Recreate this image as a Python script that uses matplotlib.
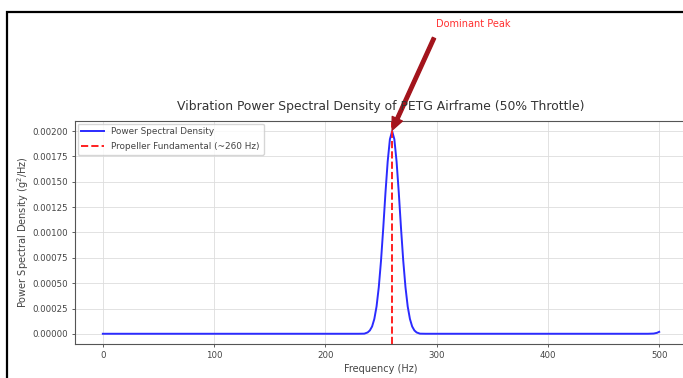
import matplotlib
matplotlib.use("Agg")
import matplotlib.pyplot as plt
from matplotlib.patches import Rectangle

# Data
freq = [0, 100, 200, 225, 230, 235, 238, 240, 242, 244, 246, 248, 250, 252, 254, 256, 258, 260,
        262, 264, 266, 268, 270, 272, 274, 276, 278, 280, 282, 285, 290, 300, 400, 490, 495, 498, 500]
psd = [0.000001, 0.000001, 0.000001, 0.000001, 0.000001, 0.000002, 0.000014, 0.000034, 0.000073,
       0.000147, 0.00027, 0.00046, 0.00072, 0.00104, 0.00139, 0.00170, 0.00192, 0.00200,
       0.00192, 0.00170, 0.00139, 0.00104, 0.00072, 0.00046, 0.00027, 0.000147, 0.000073,
       0.000034, 0.000014, 0.000002, 0.000001, 0.000001, 0.000001, 0.000001, 0.000003, 0.000010, 0.000020]
fundamental = 260
yticks = [0.0, 0.00025, 0.0005, 0.00075, 0.001, 0.00125, 0.0015, 0.00175, 0.002]
xticks = [0, 100, 200, 300, 400, 500]

W, H = 683, 378
fig = plt.figure(figsize=(W / 100, H / 100), dpi=100)
fig.patch.set_facecolor("white")

# screenshot frame
fig.patches.append(Rectangle((7 / W, -0.1), 1.2, (H - 12) / H + 0.1, transform=fig.transFigure,
                             fill=False, edgecolor="black", linewidth=1.6))

left, right, top, bottom = 75, 687, 121, 344
ax = fig.add_axes([left / W, 1 - bottom / H, (right - left) / W, (bottom - top) / H])

ax.plot(freq, psd, color="#2b2bff", linewidth=1.4, label="Power Spectral Density")
ax.axvline(fundamental, color="#ff2020", linestyle="--", linewidth=1.4,
           label="Propeller Fundamental (~260 Hz)")

ax.set_xlim(-25, 525)
ax.set_ylim(-0.0001, 0.0021)
ax.set_xticks(xticks)
ax.set_yticks(yticks)
ax.set_yticklabels([f"{v:.5f}" for v in yticks])
ax.tick_params(labelsize=6.2, colors="#444444", length=2.5, width=0.6, pad=2.5)
ax.grid(True, color="#dddddd", linewidth=0.6, linestyle="-")
for s in ax.spines.values():
    s.set_color("#555555")
    s.set_linewidth(0.8)

ax.set_title("Vibration Power Spectral Density of PETG Airframe (50% Throttle)",
             fontsize=8.9, color="#333333", pad=8)
ax.set_xlabel("Frequency (Hz)", fontsize=7, color="#444444", labelpad=3)
ax.set_ylabel("Power Spectral Density (g$^2$/Hz)", fontsize=7, color="#444444", labelpad=1)

leg = ax.legend(loc="upper left", fontsize=6.4, frameon=True, handlelength=2.6,
                borderpad=0.4, labelspacing=0.65, borderaxespad=0.3)
leg.get_frame().set_edgecolor("#cccccc")
for t in leg.get_texts():
    t.set_color("#444444")

fig.text(473 / W, 1 - 24 / H, "Dominant Peak", color="#ff3030", fontsize=7,
         ha="center", va="center")
ax.annotate("", xy=(fundamental, 0.00201), xycoords="data",
            xytext=(434, H - 38), textcoords="figure pixels",
            arrowprops=dict(facecolor="#a3141c", edgecolor="#a3141c", width=2.5,
                            headwidth=8, headlength=9, shrink=0.0),
            annotation_clip=False)

fig.savefig("out.png", dpi=100)
